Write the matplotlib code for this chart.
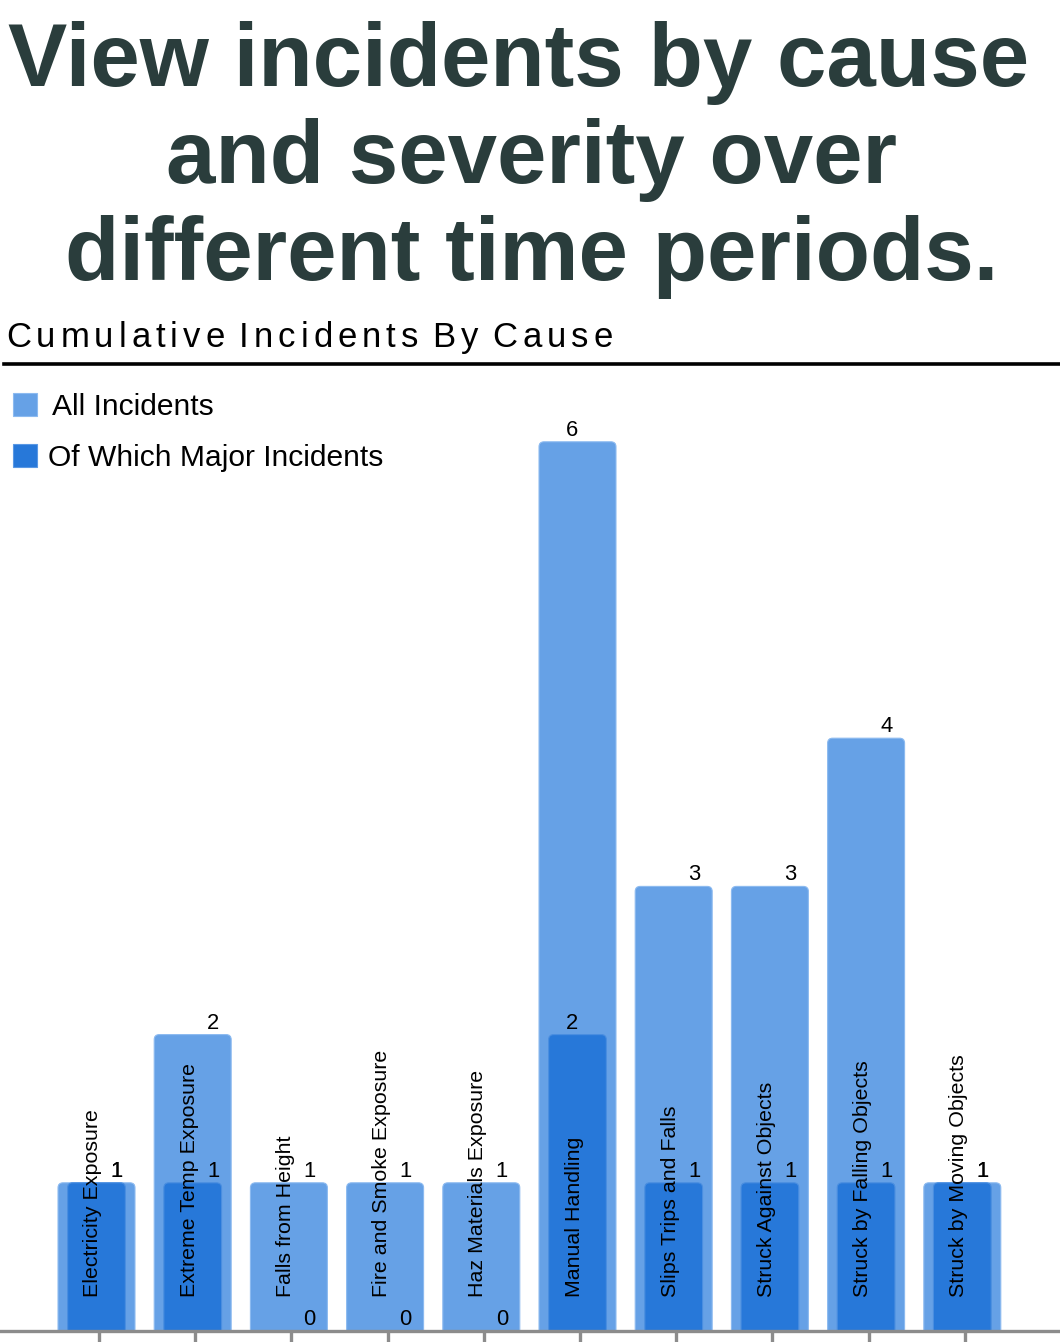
import matplotlib
matplotlib.use("Agg")
import matplotlib.pyplot as plt
from matplotlib.patches import FancyBboxPatch, Rectangle
from matplotlib.lines import Line2D

plt.rcParams['font.family'] = ['Liberation Sans', 'DejaVu Sans']

# ---- data ----
categories = ["Electricity Exposure", "Extreme Temp Exposure", "Falls from Height",
              "Fire and Smoke Exposure", "Haz Materials Exposure", "Manual Handling",
              "Slips Trips and Falls", "Struck Against Objects", "Struck by Falling Objects",
              "Struck by Moving Objects"]
all_incidents = [1, 2, 1, 1, 1, 6, 3, 3, 4, 1]
major_incidents = [1, 1, 0, 0, 0, 2, 1, 1, 1, 1]
series_names = ["All Incidents", "Of Which Major Incidents"]
title_lines = ["View incidents by cause", "and severity over", "different time periods."]
subtitle = "Cumulative Incidents By Cause"

LIGHT = '#66a1e6'
DARK = '#2778d9'
TITLE_C = '#2a3d3c'

W, H = 1060, 1342
fig = plt.figure(figsize=(W / 100, H / 100), dpi=100)
fig.patch.set_facecolor('white')

def fx(x):
    return x / W

def fy(y):
    return 1 - y / H

# ---- title ----
for line, base, cx in zip(title_lines, [86, 183, 280], [519, 532, 532]):
    fig.text(fx(cx), fy(base), line, ha='center', va='baseline',
             fontsize=64, fontweight='bold', color=TITLE_C)

# ---- subtitle with letter spacing ----
renderer = fig.canvas.get_renderer()
sub_fs = 25
def char_w(c):
    t1 = fig.text(0, 0, "|" + c + "|", fontsize=sub_fs)
    t2 = fig.text(0, 0, "||", fontsize=sub_fs)
    w = t1.get_window_extent(renderer).width - t2.get_window_extent(renderer).width
    t1.remove(); t2.remove()
    return w
widths = [char_w(c) for c in subtitle]
natural = sum(widths)
target = 613 - 6
n_gaps = sum(1 for c in subtitle[:-1] if c != ' ')
spacing = (target - natural) / n_gaps
xpos = 6
for c, w in zip(subtitle, widths):
    fig.text(fx(xpos), fy(347), c, ha='left', va='baseline', fontsize=sub_fs, color='black')
    xpos += w + (spacing if c != ' ' else 0)

fig.add_artist(Line2D([fx(4), fx(1060)], [fy(364), fy(364)], color='black', lw=2.6,
                      transform=fig.transFigure))

# ---- legend ----
fig.add_artist(Rectangle((fx(13), fy(416)), 24 / W, 23 / H, transform=fig.transFigure,
                         facecolor=LIGHT, edgecolor='#8cbaf0', lw=0.8))
fig.add_artist(Rectangle((fx(13), fy(467)), 24 / W, 23 / H, transform=fig.transFigure,
                         facecolor=DARK, edgecolor='#5a98e4', lw=0.8))
fig.text(fx(52), fy(415), series_names[0], ha='left', va='baseline', fontsize=21.6)
fig.text(fx(48), fy(466), series_names[1], ha='left', va='baseline', fontsize=21.6)

# ---- axes ----
PX_X = 96.2
PX_Y = 148.2
base_px = 1331
top_px = 380
ax = fig.add_axes([0, (H - base_px) / H, 1, (base_px - top_px) / H])
ax.set_xlim(-99 / PX_X, (W - 99) / PX_X)
ax.set_ylim(0, (base_px - top_px) / PX_Y)
ax.set_facecolor('none')
for s in ['top', 'left', 'right']:
    ax.spines[s].set_visible(False)
ax.spines['bottom'].set_color('#8c8c8c')
ax.spines['bottom'].set_linewidth(2.4)
ax.spines['bottom'].set_zorder(5)
ax.set_yticks([])
ax.set_xticks(range(len(categories)))
ax.tick_params(axis='x', length=8, width=2.4, color='#8c8c8c', labelbottom=False, direction='out')

rad = 5 / PX_X
asp = (5 / PX_Y) / rad
bar_shift = -2.5 / PX_X

def rbar(xc, width, val, color, edge, z):
    if val <= 0:
        return
    p = FancyBboxPatch((xc - width / 2, -0.1), width, val + 0.1,
                       boxstyle=f"round,pad=0,rounding_size={rad}",
                       mutation_aspect=asp, facecolor=color, edgecolor=edge,
                       lw=0.8, zorder=z)
    ax.add_patch(p)

lab_dy = 6 / PX_Y
for i, (cat, a, m) in enumerate(zip(categories, all_incidents, major_incidents)):
    rbar(i + bar_shift, 0.8, a, LIGHT, '#8cbaf0', 1)
    rbar(i + bar_shift, 0.6, m, DARK, '#4a8ee0', 2)
    off = 18 / PX_X if a < max(all_incidents) else -8 / PX_X
    ax.text(i + off, a + lab_dy, str(a), ha='center', va='baseline', fontsize=15.8, zorder=4)
    ax.text(i + off, m + lab_dy, str(m), ha='center', va='baseline', fontsize=15.8, zorder=4)
    ax.text(i - 6 / PX_X, 34 / PX_Y, cat, rotation=90, ha='center', va='bottom',
            fontsize=15.4, zorder=4)

fig.savefig('out.png', dpi=100, facecolor='white')
